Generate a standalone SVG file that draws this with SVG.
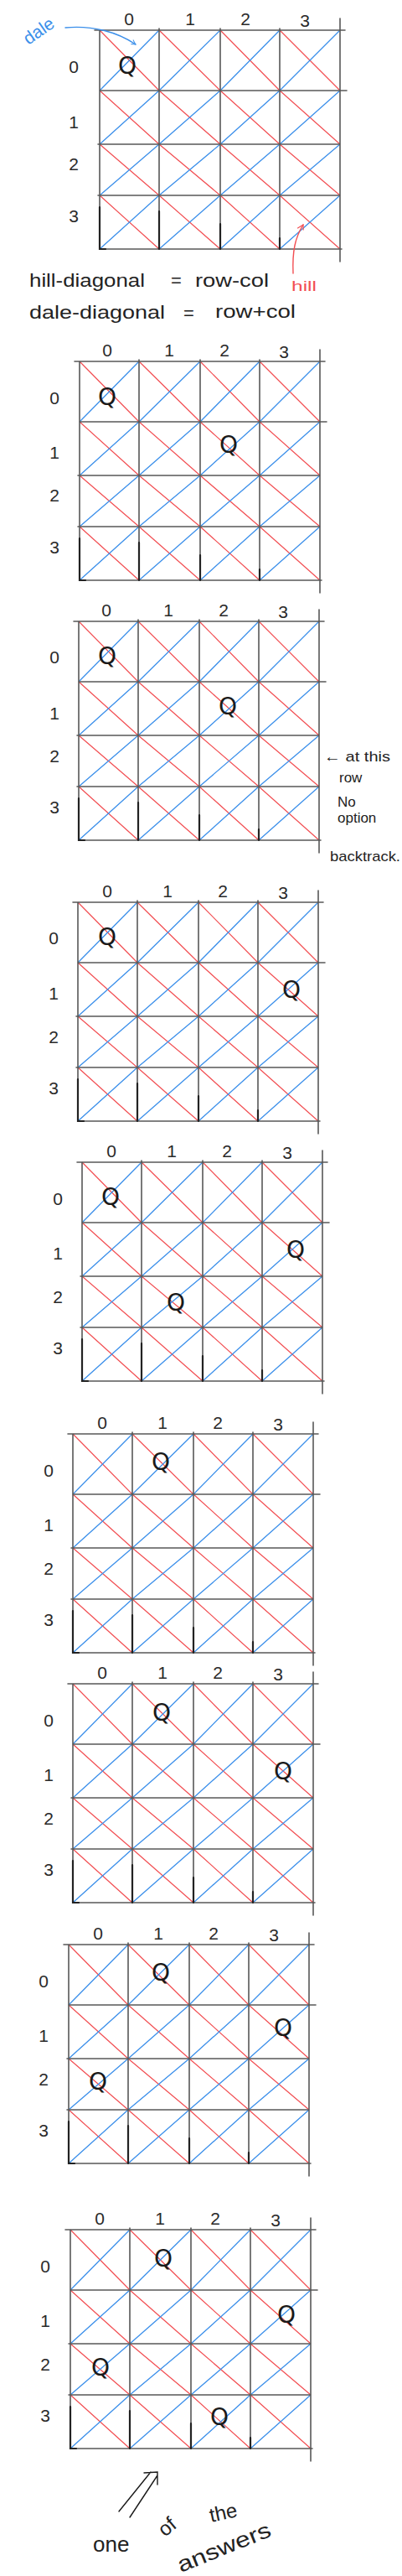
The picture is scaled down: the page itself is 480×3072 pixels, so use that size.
<svg xmlns="http://www.w3.org/2000/svg" xmlns:xlink="http://www.w3.org/1999/xlink" width="480" height="3072" viewBox="0 0 480 3072">
<style>
.g{stroke:#585858;stroke-width:1.6;fill:none;stroke-linecap:round}
.r{stroke:#f24e52;stroke-width:1.2;fill:none}
.b{stroke:#3b8fea;stroke-width:1.3;fill:none}
.k{stroke:#222;stroke-width:2.2;fill:none;stroke-linecap:round}
.lbl{font-family:"Liberation Sans","DejaVu Sans",sans-serif;font-size:21px;fill:#2a2a2a;text-anchor:middle}
.q{font-family:"DejaVu Sans","Liberation Sans",sans-serif;font-size:28px;fill:#1a1a1a;text-anchor:middle}
.note{font-family:"Liberation Sans","DejaVu Sans",sans-serif;fill:#222}
.cn{fill:none;stroke-width:1.4;stroke-linecap:round}
</style>
<defs>
<marker id="mb" viewBox="0 0 10 10" refX="9" refY="5" markerWidth="7" markerHeight="7" orient="auto" markerUnits="userSpaceOnUse"><path d="M1,1 Q6,4 9,5 Q6,7 2,9" fill="none" stroke="#3b8fea" stroke-width="1.4"/></marker>
<marker id="mr" viewBox="0 0 10 10" refX="9" refY="5" markerWidth="9" markerHeight="9" orient="auto" markerUnits="userSpaceOnUse"><path d="M1,1 L9,5 L3,9" fill="none" stroke="#f24e52" stroke-width="1.3"/></marker>
<g id="grid">
<path class="r" d="M0,0L71,72M71,0L144,72M144,0L215,72M215,0L287,72M0,72L71,136M71,72L144,136M144,72L215,136M215,72L287,136M0,136L71,197M71,136L144,197M144,136L215,197M215,136L287,197M0,197L71,261M71,197L144,261M144,197L215,261M215,197L287,261"/>
<path class="b" d="M0,72L71,0M71,72L144,0M144,72L215,0M215,72L287,0M0,136L71,72M71,136L144,72M144,136L215,72M215,136L287,72M0,197L71,136M71,197L144,136M144,197L215,136M215,197L287,136M0,261L71,197M71,261L144,197M144,261L215,197M215,261L287,197"/>
<path class="g" d="M-6,0H293M0,72H295M-2,136H287M-2,197H287M0,261H289M0,0V261M71,-2V261M144,-2V261M215,-2V261M287,-14V276"/>
<path class="k" d="M0,211V261h7M71,216V261M144,231V261M215,248V261"/>
</g>
</defs>

<g id="board1" transform="translate(119,36)">
<use xlink:href="#grid" href="#grid"/>
<text class="lbl" x="35" y="-6">0</text><text class="lbl" x="108" y="-6">1</text><text class="lbl" x="174" y="-6">2</text><text class="lbl" x="245" y="-4">3</text>
<text class="lbl" x="-31" y="51">0</text><text class="lbl" x="-31" y="117">1</text><text class="lbl" x="-31" y="167">2</text><text class="lbl" x="-31" y="229">3</text>
<text class="q" x="33" y="52">Q</text>
</g>

<g id="annotations1">
<text class="note" x="35" y="342" font-size="22" textLength="138" lengthAdjust="spacingAndGlyphs">hill-diagonal</text>
<text class="note" x="204" y="342" font-size="22">=</text>
<text class="note" x="233" y="342" font-size="22" textLength="88" lengthAdjust="spacingAndGlyphs">row-col</text>
<text class="note" x="35" y="380" font-size="22" textLength="162" lengthAdjust="spacingAndGlyphs">dale-diagonal</text>
<text class="note" x="219" y="381" font-size="22">=</text>
<text class="note" x="257" y="379" font-size="22" textLength="96" lengthAdjust="spacingAndGlyphs">row+col</text>
<text x="0" y="0" font-family="Liberation Sans, sans-serif" font-size="21" fill="#3b8fea" transform="translate(34,54) rotate(-35)">dale</text>
<text x="348" y="347" font-family="Liberation Sans, sans-serif" font-size="17" fill="#f24e52" textLength="30" lengthAdjust="spacingAndGlyphs">hill</text>
</g>

<g id="board2" transform="translate(95,431)">
<use xlink:href="#grid" href="#grid"/>
<text class="lbl" x="33" y="-6">0</text><text class="lbl" x="107" y="-6">1</text><text class="lbl" x="173" y="-6">2</text><text class="lbl" x="244" y="-4">3</text>
<text class="lbl" x="-30" y="51">0</text><text class="lbl" x="-30" y="116">1</text><text class="lbl" x="-30" y="167">2</text><text class="lbl" x="-30" y="229">3</text>
<text class="q" x="33" y="52">Q</text><text class="q" x="178" y="109">Q</text>
</g>

<g id="board3" transform="translate(94,741)">
<use xlink:href="#grid" href="#grid"/>
<text class="lbl" x="33" y="-6">0</text><text class="lbl" x="107" y="-6">1</text><text class="lbl" x="173" y="-6">2</text><text class="lbl" x="244" y="-4">3</text>
<text class="lbl" x="-29" y="50">0</text><text class="lbl" x="-29" y="117">1</text><text class="lbl" x="-29" y="168">2</text><text class="lbl" x="-29" y="229">3</text>
<text class="q" x="34" y="51">Q</text><text class="q" x="178" y="111">Q</text>
</g>

<g id="note-backtrack" class="note" font-size="17">
<text x="387" y="908" textLength="79" lengthAdjust="spacingAndGlyphs">← at this</text>
<text x="405" y="933">row</text>
<text x="403" y="962">No</text>
<text x="403" y="981">option</text>
<text x="394" y="1027" textLength="84" lengthAdjust="spacingAndGlyphs">backtrack.</text>
</g>

<g id="board4" transform="translate(93,1076)">
<use xlink:href="#grid" href="#grid"/>
<text class="lbl" x="35" y="-6">0</text><text class="lbl" x="107" y="-6">1</text><text class="lbl" x="173" y="-6">2</text><text class="lbl" x="245" y="-4">3</text>
<text class="lbl" x="-29" y="50">0</text><text class="lbl" x="-29" y="116">1</text><text class="lbl" x="-29" y="168">2</text><text class="lbl" x="-29" y="229">3</text>
<text class="q" x="35" y="51">Q</text><text class="q" x="255" y="114">Q</text>
</g>

<g id="board5" transform="translate(98,1386)">
<use xlink:href="#grid" href="#grid"/>
<text class="lbl" x="35" y="-6">0</text><text class="lbl" x="107" y="-6">1</text><text class="lbl" x="173" y="-6">2</text><text class="lbl" x="245" y="-4">3</text>
<text class="lbl" x="-29" y="51">0</text><text class="lbl" x="-29" y="116">1</text><text class="lbl" x="-29" y="168">2</text><text class="lbl" x="-29" y="229">3</text>
<text class="q" x="34" y="51">Q</text><text class="q" x="255" y="114">Q</text><text class="q" x="112" y="177">Q</text>
</g>

<g id="board6" transform="translate(87,1710)">
<use xlink:href="#grid" href="#grid"/>
<text class="lbl" x="35" y="-6">0</text><text class="lbl" x="107" y="-6">1</text><text class="lbl" x="173" y="-6">2</text><text class="lbl" x="245" y="-4">3</text>
<text class="lbl" x="-29" y="51">0</text><text class="lbl" x="-29" y="116">1</text><text class="lbl" x="-29" y="168">2</text><text class="lbl" x="-29" y="229">3</text>
<text class="q" x="105" y="43">Q</text>
</g>

<g id="board7" transform="translate(87,2008)">
<use xlink:href="#grid" href="#grid"/>
<text class="lbl" x="35" y="-6">0</text><text class="lbl" x="107" y="-6">1</text><text class="lbl" x="173" y="-6">2</text><text class="lbl" x="245" y="-4">3</text>
<text class="lbl" x="-29" y="51">0</text><text class="lbl" x="-29" y="116">1</text><text class="lbl" x="-29" y="168">2</text><text class="lbl" x="-29" y="229">3</text>
<text class="q" x="106" y="44">Q</text><text class="q" x="251" y="114">Q</text>
</g>

<g id="board8" transform="translate(82,2319)">
<use xlink:href="#grid" href="#grid"/>
<text class="lbl" x="35" y="-6">0</text><text class="lbl" x="107" y="-6">1</text><text class="lbl" x="173" y="-6">2</text><text class="lbl" x="245" y="-4">3</text>
<text class="lbl" x="-30" y="51">0</text><text class="lbl" x="-30" y="116">1</text><text class="lbl" x="-30" y="168">2</text><text class="lbl" x="-30" y="229">3</text>
<text class="q" x="110" y="43">Q</text><text class="q" x="256" y="109">Q</text><text class="q" x="35" y="173">Q</text>
</g>

<g id="board9" transform="translate(84,2659)">
<use xlink:href="#grid" href="#grid"/>
<text class="lbl" x="35" y="-6">0</text><text class="lbl" x="107" y="-6">1</text><text class="lbl" x="173" y="-6">2</text><text class="lbl" x="245" y="-4">3</text>
<text class="lbl" x="-30" y="51">0</text><text class="lbl" x="-30" y="116">1</text><text class="lbl" x="-30" y="168">2</text><text class="lbl" x="-30" y="229">3</text>
<text class="q" x="111" y="44">Q</text><text class="q" x="258" y="111">Q</text><text class="q" x="36" y="174">Q</text><text class="q" x="178" y="233">Q</text>
</g>

<g id="note-answer" class="note">
<text x="111" y="3043" font-size="26">one</text>
<text x="0" y="0" font-size="24" transform="translate(197,3026) rotate(-40)">of</text>
<text x="0" y="0" font-size="24" transform="translate(252,3008) rotate(-12)">the</text>
<text x="0" y="0" font-size="26" transform="translate(216,3068) rotate(-22)" textLength="118" lengthAdjust="spacingAndGlyphs">answers</text>
</g>

<g id="connectors">
<path class="cn" stroke="#3b8fea" d="M78,33 C110,30 140,38 162,53" marker-end="url(#mb)"/>
<path class="cn" stroke="#f24e52" d="M350,326 C349,300 352,284 362,268" marker-end="url(#mr)"/>
<path class="cn" stroke="#1a1a1a" d="M142,2995 L180,2948 M155,3002 L188,2952 M172,2949 L188,2948 L188,2963"/>
</g>
</svg>
